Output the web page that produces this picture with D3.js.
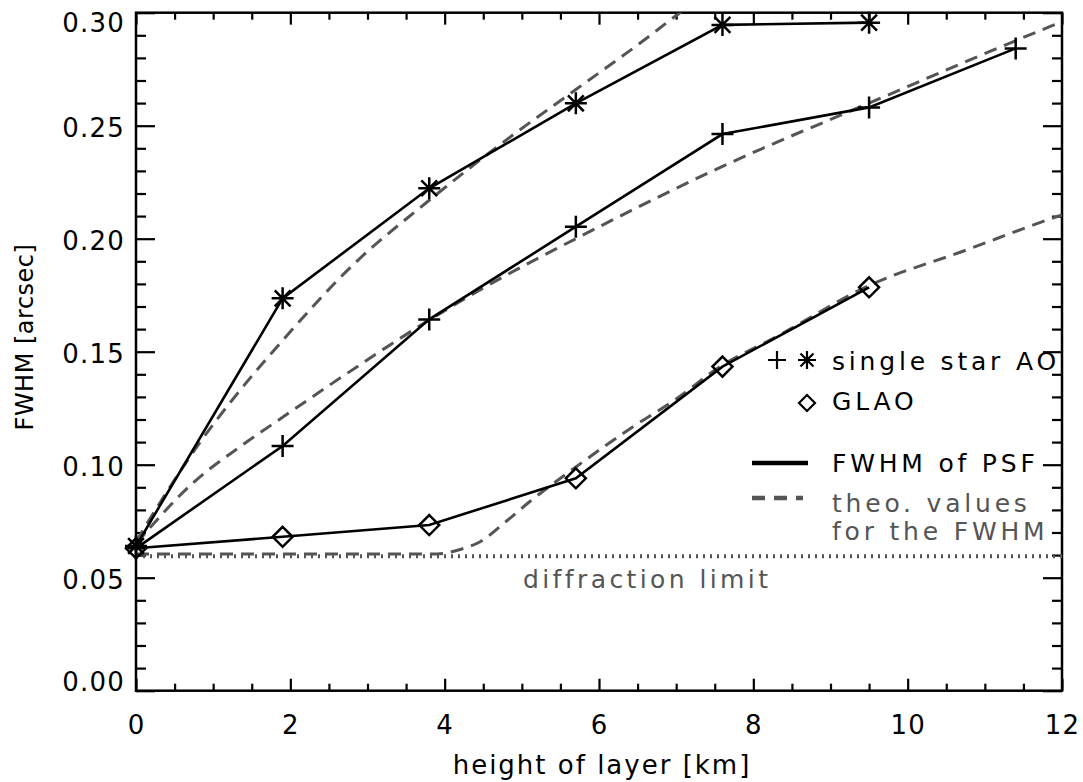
<!DOCTYPE html>
<html>
<head>
<meta charset="utf-8">
<script src="https://cdn.jsdelivr.net/npm/d3@7"></script>
<style>
  body { margin: 0; background: #fff; }
  svg { display: block; }
  text { font-family: "DejaVu Sans", sans-serif; }
</style>
</head>
<body>
<div id="chart"></div>
<script>
// measured FWHM values, layer heights in km
const heights = [0, 1.9, 3.8, 5.7, 7.6, 9.5, 11.4];
const ssaoStar = [0.064, 0.1736, 0.2223, 0.2599, 0.2946, 0.2956];
const ssaoPlus = [0.063, 0.1083, 0.1643, 0.2053, 0.2463, 0.2581, 0.2842];
const glao = [0.063, 0.0681, 0.0733, 0.094, 0.1434, 0.1785];

// theoretical curves
const theoStarX = [0, 0.4, 0.79, 1.35, 1.9, 2.8, 3.8, 4.85, 5.7, 6.53, 7.05, 7.5];
const theoStarY = [0.066, 0.088, 0.108, 0.133, 0.155, 0.188, 0.217, 0.245, 0.266, 0.2865, 0.300, 0.311];
const theoPlusX = [0, 0.74, 1.35, 1.9, 2.5, 3.8, 4.7, 5.7, 7.6, 9.5, 11.84, 12];
const theoPlusY = [0.065, 0.092, 0.108, 0.121, 0.135, 0.164, 0.182, 0.200, 0.232, 0.260, 0.2938, 0.296];
const theoGlaoX = [0, 1, 2, 3, 3.9, 4.2, 4.46, 4.8, 5.1, 5.7, 6.44, 6.98, 7.57, 8.3, 9.47, 10.76, 11.93, 12];
const theoGlaoY = [0.0605, 0.0605, 0.0605, 0.0605, 0.0605, 0.0625, 0.0659, 0.075, 0.0836, 0.099, 0.1168, 0.1286, 0.1434, 0.1566, 0.1788, 0.195, 0.2097, 0.2105];

const diffLimit = 0.0595;

const xTicks = [0, 2, 4, 6, 8, 10, 12];
const yTicks = [0.00, 0.05, 0.10, 0.15, 0.20, 0.25, 0.30];

var width = 1083, height = 782;
var plotL = 136, plotR = 1062, plotT = 12.7, plotB = 690.7;

var svg = d3.select('#chart')
    .append('svg')
    .attr('width', width)
    .attr('height', height)
    .style('background', '#fff');

var x = d3.scaleLinear().domain([0, 12]).range([plotL, plotR]);
var y = d3.scaleLinear().domain([0, 0.30]).range([plotB, plotT]);

svg.append('clipPath').attr('id', 'plot-clip')
    .append('rect')
    .attr('x', plotL).attr('y', plotT)
    .attr('width', plotR - plotL).attr('height', plotB - plotT);

// axes: major + minor ticks, all pointing inside
var xMinor = d3.range(0, 12.01, 0.5).filter(v => v % 2 !== 0);
var yMinor = d3.range(0, 0.3001, 0.01).filter(v => Math.round(v * 100) % 5 !== 0);

function styleAxis(sel) {
    sel.select('.domain').remove();
    sel.selectAll('line').attr('stroke', '#000').attr('stroke-width', 2.2);
    sel.selectAll('text')
        .attr('fill', '#000')
        .style('font-size', '26px')
        .style('letter-spacing', '1.2px');
}

svg.append('g')
    .attr('transform', 'translate(0,' + plotB + ')')
    .call(d3.axisBottom(x).tickValues(xTicks).tickSize(-12).tickPadding(25).tickFormat(d3.format('d')))
    .call(styleAxis);
svg.append('g')
    .attr('transform', 'translate(0,' + plotB + ')')
    .call(d3.axisBottom(x).tickValues(xMinor).tickSize(-7).tickFormat(''))
    .call(styleAxis);
svg.append('g')
    .attr('transform', 'translate(0,' + plotT + ')')
    .call(d3.axisTop(x).tickValues(xTicks).tickSize(-12).tickFormat(''))
    .call(styleAxis);
svg.append('g')
    .attr('transform', 'translate(0,' + plotT + ')')
    .call(d3.axisTop(x).tickValues(xMinor).tickSize(-7).tickFormat(''))
    .call(styleAxis);

var yAxisG = svg.append('g')
    .attr('transform', 'translate(' + plotL + ',0)')
    .call(d3.axisLeft(y).tickValues(yTicks).tickSize(-19).tickPadding(11).tickFormat(d3.format('.2f')))
    .call(styleAxis);
// end labels are kept inside the axis range, like the original plot
yAxisG.selectAll('.tick text')
    .attr('dy', d => d === 0.30 ? '0.74em' : (d === 0 ? '-0.02em' : '0.4em'));

svg.append('g')
    .attr('transform', 'translate(' + plotL + ',0)')
    .call(d3.axisLeft(y).tickValues(yMinor).tickSize(-10).tickFormat(''))
    .call(styleAxis);
svg.append('g')
    .attr('transform', 'translate(' + plotR + ',0)')
    .call(d3.axisRight(y).tickValues(yTicks).tickSize(-19).tickFormat(''))
    .call(styleAxis);
svg.append('g')
    .attr('transform', 'translate(' + plotR + ',0)')
    .call(d3.axisRight(y).tickValues(yMinor).tickSize(-10).tickFormat(''))
    .call(styleAxis);

// frame
svg.append('rect')
    .attr('x', plotL).attr('y', plotT)
    .attr('width', plotR - plotL).attr('height', plotB - plotT)
    .attr('fill', 'none').attr('stroke', '#000').attr('stroke-width', 2.5);

// axis titles
svg.append('text')
    .attr('x', (plotL + plotR) / 2 + 3)
    .attr('y', 774)
    .attr('text-anchor', 'middle')
    .style('font-size', '26px')
    .style('letter-spacing', '2px')
    .text('height of layer [km]');

svg.append('text')
    .attr('transform', 'translate(33,337) rotate(-90)')
    .attr('text-anchor', 'middle')
    .style('font-size', '24px')
    .style('letter-spacing', '0.5px')
    .text('FWHM [arcsec]');

// diffraction limit
svg.append('line')
    .attr('x1', x(0)).attr('x2', x(12))
    .attr('y1', y(diffLimit)).attr('y2', y(diffLimit))
    .attr('stroke', '#555').attr('stroke-width', 4)
    .attr('stroke-dasharray', '2,5');

svg.append('text')
    .attr('x', 523).attr('y', 588)
    .attr('fill', '#555')
    .style('font-size', '25px')
    .style('letter-spacing', '3.4px')
    .text('diffraction limit');

// theoretical dashed curves
var curveLine = d3.line()
    .x(d => x(d[0]))
    .y(d => y(d[1]))
    .curve(d3.curveMonotoneX);

var theoSets = [
    d3.zip(theoStarX, theoStarY),
    d3.zip(theoPlusX, theoPlusY),
    d3.zip(theoGlaoX, theoGlaoY)
];

svg.append('g')
    .attr('clip-path', 'url(#plot-clip)')
    .selectAll('path')
    .data(theoSets)
    .enter()
    .append('path')
    .attr('d', curveLine)
    .attr('fill', 'none')
    .attr('stroke', '#555')
    .attr('stroke-width', 3)
    .attr('stroke-dasharray', '13,8');

// measured solid lines
var measLine = d3.line()
    .x(d => x(d[0]))
    .y(d => y(d[1]));

var measured = [
    { pts: d3.zip(heights, ssaoStar), sym: 'star' },
    { pts: d3.zip(heights, ssaoPlus), sym: 'plus' },
    { pts: d3.zip(heights, glao), sym: 'diamond' }
];

var symPath = {
    plus: function (r) { return 'M' + (-r) + ',0H' + r + 'M0,' + (-r) + 'V' + r; },
    star: function (r) {
        var k = r * 0.72;
        return 'M' + (-r) + ',0H' + r + 'M0,' + (-r) + 'V' + r +
            'M' + (-k) + ',' + (-k) + 'L' + k + ',' + k +
            'M' + (-k) + ',' + k + 'L' + k + ',' + (-k);
    },
    diamond: function (r) { return 'M0,' + (-r) + 'L' + r + ',0L0,' + r + 'L' + (-r) + ',0Z'; }
};

measured.forEach(function (s) {
    svg.append('path')
        .datum(s.pts)
        .attr('d', measLine)
        .attr('fill', 'none')
        .attr('stroke', '#000')
        .attr('stroke-width', 2.6);

    svg.selectAll('.m-' + s.sym)
        .data(s.pts)
        .enter()
        .append('path')
        .attr('class', 'm-' + s.sym)
        .attr('transform', d => 'translate(' + x(d[0]) + ',' + y(d[1]) + ')')
        .attr('d', symPath[s.sym](s.sym === 'diamond' ? 10 : 11))
        .attr('fill', 'none')
        .attr('stroke', '#000')
        .attr('stroke-width', 2.5);
});

// legend
var lg = svg.append('g');
var lx = 832;

lg.append('path').attr('transform', 'translate(777,360)')
    .attr('d', symPath.plus(9)).attr('stroke', '#000').attr('stroke-width', 2.2).attr('fill', 'none');
lg.append('path').attr('transform', 'translate(807,360)')
    .attr('d', symPath.star(9)).attr('stroke', '#000').attr('stroke-width', 2.2).attr('fill', 'none');
lg.append('path').attr('transform', 'translate(807,403)')
    .attr('d', symPath.diamond(8)).attr('stroke', '#000').attr('stroke-width', 2.2).attr('fill', 'none');
lg.append('line')
    .attr('x1', 752).attr('x2', 808).attr('y1', 463).attr('y2', 463)
    .attr('stroke', '#000').attr('stroke-width', 4.5);
lg.append('line')
    .attr('x1', 752).attr('x2', 803).attr('y1', 498).attr('y2', 498)
    .attr('stroke', '#555').attr('stroke-width', 4.5)
    .attr('stroke-dasharray', '13,9');

var legendTexts = [
    { t: 'single star AO', yy: 370, c: '#000' },
    { t: 'GLAO', yy: 410, c: '#000' },
    { t: 'FWHM of PSF', yy: 472, c: '#000' },
    { t: 'theo. values', yy: 512, c: '#555' },
    { t: 'for the FWHM', yy: 540, c: '#555' }
];
lg.selectAll('text')
    .data(legendTexts)
    .enter()
    .append('text')
    .attr('x', lx)
    .attr('y', d => d.yy)
    .attr('fill', d => d.c)
    .style('font-size', '25px')
    .style('letter-spacing', '3.8px')
    .text(d => d.t);
</script>
</body>
</html>
